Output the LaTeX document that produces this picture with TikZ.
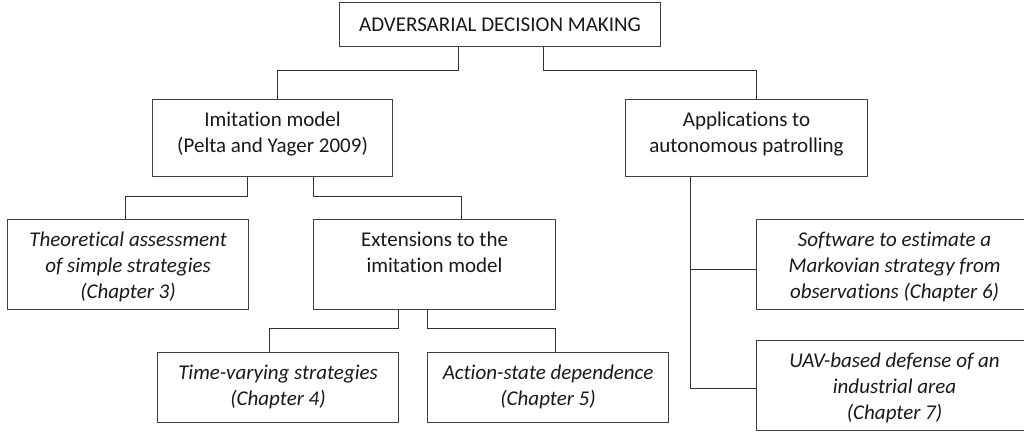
\documentclass[tikz,border=0pt]{standalone}
\usepackage{fontspec}
\setmainfont[Ligatures=NoCommon]{Carlito}
\usetikzlibrary{positioning}

\begin{document}
\begin{tikzpicture}[x=1pt,y=-1pt,
  box/.style={draw=black!75,line width=1.1pt,anchor=north west,inner sep=0pt},
  lbl/.style={align=center,inner sep=0pt,text=black!90,font=\fontsize{21}{26}\selectfont},
  link/.style={draw=black!80,line width=1.1pt}]
 \useasboundingbox (0,0) rectangle (1024,431);
 \clip (0,0) rectangle (1024,431);
 \node[box,lbl,minimum width=321pt,minimum height=44pt] (root) at (339,2) {ADVERSARIAL DECISION MAKING};
 \node[box,minimum width=240pt,minimum height=77pt] (imit) at (152,99) {};
 \node[box,minimum width=242pt,minimum height=77pt] (apps) at (625,99) {};
 \node[box,minimum width=241pt,minimum height=90pt] (theo) at (7,219) {};
 \node[box,minimum width=242pt,minimum height=90pt] (ext) at (313,219) {};
 \node[box,minimum width=241pt,minimum height=70pt] (tvar) at (157,352) {};
 \node[box,minimum width=241pt,minimum height=70pt] (astate) at (427,352) {};
 \node[box,minimum width=276pt,minimum height=90pt] (soft) at (756,219) {};
 \node[box,minimum width=276pt,minimum height=90pt] (uav) at (756,340) {};
 \node[lbl,below=13pt of imit.north] (imittxt) {Imitation model\\(Pelta and Yager 2009)};
 \node[lbl,below=13pt of apps.north] (appstxt) {Applications to\\autonomous patrolling};
 \node[lbl,below=13pt of theo.north] (theotxt) {\itshape Theoretical assessment\\\itshape of simple strategies\\\itshape (Chapter 3)};
 \node[lbl,below=13pt of ext.north] (exttxt) {Extensions to the\\imitation model};
 \node[lbl,below=13pt of tvar.north] (tvartxt) {\itshape Time-varying strategies\\\itshape (Chapter 4)};
 \node[lbl,below=13pt of astate.north] (astatetxt) {\itshape Action-state dependence\\\itshape (Chapter 5)};
 \node[lbl,below=13pt of soft.north] (softtxt) {\itshape Software to estimate a\\\itshape Markovian strategy from\\\itshape observations (Chapter 6)};
 \node[lbl,below=13pt of uav.north] (uavtxt) {\itshape UAV-based defense of an\\\itshape industrial area\\\itshape (Chapter 7)};
 \draw[link] ([xshift=-42pt]root.south) -- ++(0,23) -| ([xshift=5pt]imit.north);
 \draw[link] ([xshift=43pt]root.south) -- ++(0,23) -| ([xshift=10pt]apps.north);
 \draw[link] ([xshift=-25pt]imit.south) -- ++(0,19) -| ([xshift=-3pt]theo.north);
 \draw[link] ([xshift=41pt]imit.south) -- ++(0,19) -| ([xshift=27pt]ext.north);
 \draw[link] ([xshift=-36pt]ext.south) -- ++(0,18) -| ([xshift=-9pt]tvar.north);
 \draw[link] ([xshift=-7pt]ext.south) -- ++(0,18) -| ([xshift=7pt]astate.north);
 \draw[link] ([xshift=-56pt]apps.south) |- ([yshift=-5pt]soft.west);
 \draw[link] ([xshift=-56pt]apps.south) |- ([yshift=-3pt]uav.west);
\end{tikzpicture}
\end{document}
